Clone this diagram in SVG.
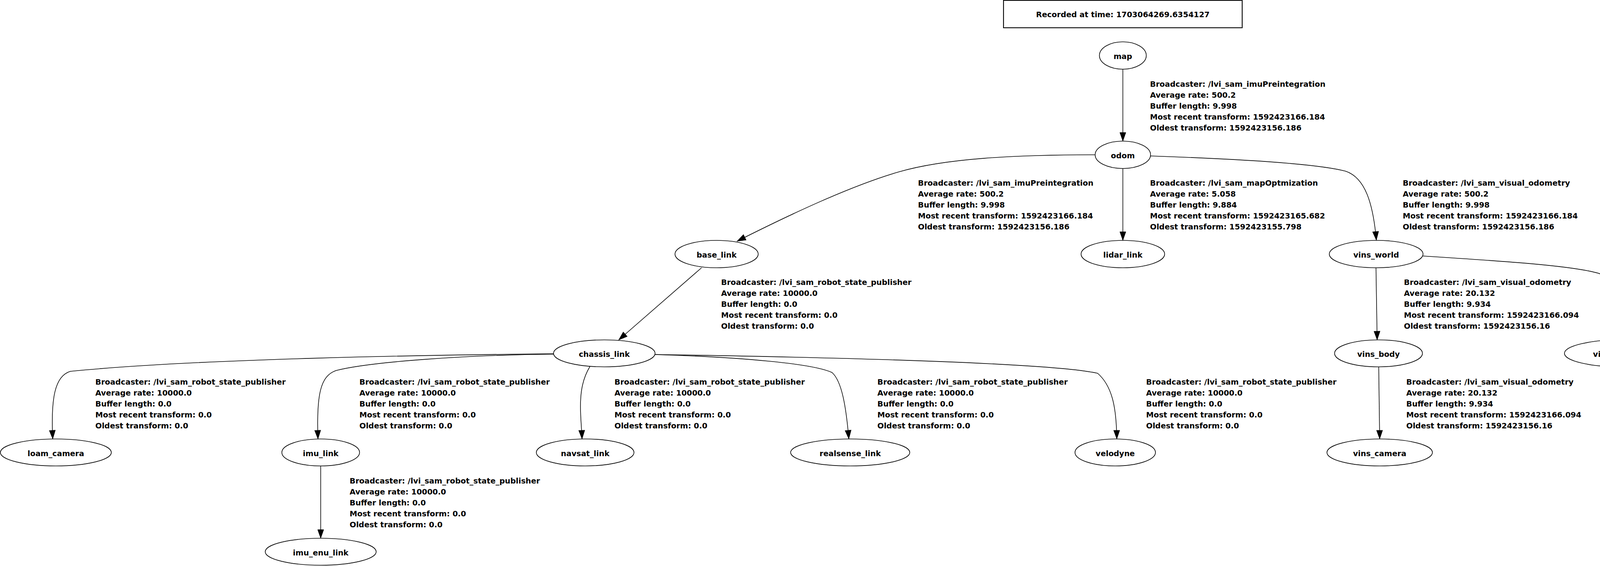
<svg xmlns="http://www.w3.org/2000/svg" width="4676" height="1448" viewBox="0 0 4676 1448">
<style>
text { font-family: "DejaVu Sans", "Liberation Sans", sans-serif; font-weight: bold; font-size: 19.6px; fill: #000; }
.node ellipse { fill: #fff; stroke: #000; stroke-width: 1.7; }
.node text { text-anchor: middle; }
.edge path { fill: none; stroke: #000; stroke-width: 1.6; marker-end: url(#arrow); }
.title rect { fill: #fff; stroke: #000; stroke-width: 2.2; }
</style>
<defs>
<marker id="arrow" markerUnits="userSpaceOnUse" markerWidth="24" markerHeight="18" refX="22" refY="8" orient="auto" overflow="visible">
<path d="M0,0.3 L22,8 L0,15.7 Z" fill="#000" stroke="#000" stroke-width="1"/>
</marker>
</defs>
<rect width="4676" height="1448" fill="#fff"/>

<g id="title" class="title">
<rect x="2569" y="1" width="611" height="70"/>
<text x="2874.5" y="44" text-anchor="middle">Recorded at time: 1703064269.6354127</text>
</g>

<g id="connectors">
<g class="edge" id="e-map-odom"><path d="M2874.5,177 L2874.5,361"/></g>
<g class="edge" id="e-odom-base_link"><path d="M2803,396 C2600,396 2420,405 2300,440 C2180,475 2030,545 1887,617"/></g>
<g class="edge" id="e-odom-lidar_link"><path d="M2874.5,431 L2874.5,615"/></g>
<g class="edge" id="e-odom-vins_world"><path d="M2946,399 C3150,406 3370,418 3445,438 C3495,455 3515,520 3523.5,614.5"/></g>
<g class="edge" id="e-base_link-chassis_link"><path d="M1796,685 L1584,869.5"/></g>
<g class="edge" id="e-vins_world-vins_body"><path d="M3522.5,685 L3525.5,869.5"/></g>
<g class="edge" id="e-vins_world-vins_body_ros"><path d="M3643,655 C3850,668 4030,680 4095,700 C4140,730 4155,800 4159.5,869"/></g>
<g class="edge" id="e-chassis_link-loam_camera"><path d="M1417,905 C1100,908 500,918 180,950 C140,962 130,1020 135,1123"/></g>
<g class="edge" id="e-chassis_link-imu_link"><path d="M1417,906 C1200,908 950,925 860,948 C820,962 810,1010 814,1123"/></g>
<g class="edge" id="e-chassis_link-navsat_link"><path d="M1510,938 C1492,968 1486,1000 1486,1040 C1486,1070 1489,1095 1490,1123"/></g>
<g class="edge" id="e-chassis_link-realsense_link"><path d="M1677,907 C1900,914 2080,930 2130,953 C2155,975 2166,1040 2173,1123"/></g>
<g class="edge" id="e-chassis_link-velodyne"><path d="M1677,907 C2200,915 2700,930 2810,955 C2850,990 2858,1050 2859,1123"/></g>
<g class="edge" id="e-vins_body-vins_camera"><path d="M3529.5,938.5 L3532,1123"/></g>
<g class="edge" id="e-imu_link-imu_enu_link"><path d="M821,1192 L821,1377"/></g>

<g id="edge-labels">
<text x="2944" y="222"><tspan x="2944">Broadcaster: /lvi_sam_imuPreintegration</tspan><tspan x="2944" dy="28">Average rate: 500.2</tspan><tspan x="2944" dy="28">Buffer length: 9.998</tspan><tspan x="2944" dy="28">Most recent transform: 1592423166.184</tspan><tspan x="2944" dy="28">Oldest transform: 1592423156.186</tspan></text>
<text x="2350" y="475"><tspan x="2350">Broadcaster: /lvi_sam_imuPreintegration</tspan><tspan x="2350" dy="28">Average rate: 500.2</tspan><tspan x="2350" dy="28">Buffer length: 9.998</tspan><tspan x="2350" dy="28">Most recent transform: 1592423166.184</tspan><tspan x="2350" dy="28">Oldest transform: 1592423156.186</tspan></text>
<text x="2944" y="475"><tspan x="2944">Broadcaster: /lvi_sam_mapOptmization</tspan><tspan x="2944" dy="28">Average rate: 5.058</tspan><tspan x="2944" dy="28">Buffer length: 9.884</tspan><tspan x="2944" dy="28">Most recent transform: 1592423165.682</tspan><tspan x="2944" dy="28">Oldest transform: 1592423155.798</tspan></text>
<text x="3591" y="475"><tspan x="3591">Broadcaster: /lvi_sam_visual_odometry</tspan><tspan x="3591" dy="28">Average rate: 500.2</tspan><tspan x="3591" dy="28">Buffer length: 9.998</tspan><tspan x="3591" dy="28">Most recent transform: 1592423166.184</tspan><tspan x="3591" dy="28">Oldest transform: 1592423156.186</tspan></text>
<text x="1846" y="729"><tspan x="1846">Broadcaster: /lvi_sam_robot_state_publisher</tspan><tspan x="1846" dy="28">Average rate: 10000.0</tspan><tspan x="1846" dy="28">Buffer length: 0.0</tspan><tspan x="1846" dy="28">Most recent transform: 0.0</tspan><tspan x="1846" dy="28">Oldest transform: 0.0</tspan></text>
<text x="3594" y="729"><tspan x="3594">Broadcaster: /lvi_sam_visual_odometry</tspan><tspan x="3594" dy="28">Average rate: 20.132</tspan><tspan x="3594" dy="28">Buffer length: 9.934</tspan><tspan x="3594" dy="28">Most recent transform: 1592423166.094</tspan><tspan x="3594" dy="28">Oldest transform: 1592423156.16</tspan></text>
<text x="4226" y="729"><tspan x="4226">Broadcaster: /lvi_sam_visual_odometry</tspan><tspan x="4226" dy="28">Average rate: 500.2</tspan><tspan x="4226" dy="28">Buffer length: 9.998</tspan><tspan x="4226" dy="28">Most recent transform: 1592423166.184</tspan><tspan x="4226" dy="28">Oldest transform: 1592423156.186</tspan></text>
<text x="244" y="984"><tspan x="244">Broadcaster: /lvi_sam_robot_state_publisher</tspan><tspan x="244" dy="28">Average rate: 10000.0</tspan><tspan x="244" dy="28">Buffer length: 0.0</tspan><tspan x="244" dy="28">Most recent transform: 0.0</tspan><tspan x="244" dy="28">Oldest transform: 0.0</tspan></text>
<text x="920" y="984"><tspan x="920">Broadcaster: /lvi_sam_robot_state_publisher</tspan><tspan x="920" dy="28">Average rate: 10000.0</tspan><tspan x="920" dy="28">Buffer length: 0.0</tspan><tspan x="920" dy="28">Most recent transform: 0.0</tspan><tspan x="920" dy="28">Oldest transform: 0.0</tspan></text>
<text x="1573" y="984"><tspan x="1573">Broadcaster: /lvi_sam_robot_state_publisher</tspan><tspan x="1573" dy="28">Average rate: 10000.0</tspan><tspan x="1573" dy="28">Buffer length: 0.0</tspan><tspan x="1573" dy="28">Most recent transform: 0.0</tspan><tspan x="1573" dy="28">Oldest transform: 0.0</tspan></text>
<text x="2246" y="984"><tspan x="2246">Broadcaster: /lvi_sam_robot_state_publisher</tspan><tspan x="2246" dy="28">Average rate: 10000.0</tspan><tspan x="2246" dy="28">Buffer length: 0.0</tspan><tspan x="2246" dy="28">Most recent transform: 0.0</tspan><tspan x="2246" dy="28">Oldest transform: 0.0</tspan></text>
<text x="2934" y="984"><tspan x="2934">Broadcaster: /lvi_sam_robot_state_publisher</tspan><tspan x="2934" dy="28">Average rate: 10000.0</tspan><tspan x="2934" dy="28">Buffer length: 0.0</tspan><tspan x="2934" dy="28">Most recent transform: 0.0</tspan><tspan x="2934" dy="28">Oldest transform: 0.0</tspan></text>
<text x="3600" y="984"><tspan x="3600">Broadcaster: /lvi_sam_visual_odometry</tspan><tspan x="3600" dy="28">Average rate: 20.132</tspan><tspan x="3600" dy="28">Buffer length: 9.934</tspan><tspan x="3600" dy="28">Most recent transform: 1592423166.094</tspan><tspan x="3600" dy="28">Oldest transform: 1592423156.16</tspan></text>
<text x="895" y="1237"><tspan x="895">Broadcaster: /lvi_sam_robot_state_publisher</tspan><tspan x="895" dy="28">Average rate: 10000.0</tspan><tspan x="895" dy="28">Buffer length: 0.0</tspan><tspan x="895" dy="28">Most recent transform: 0.0</tspan><tspan x="895" dy="28">Oldest transform: 0.0</tspan></text>
</g>
</g>

<g id="node-map" class="node"><ellipse cx="2874.5" cy="142" rx="60" ry="35"/><text x="2874.5" y="151">map</text></g>
<g id="node-odom" class="node"><ellipse cx="2874.5" cy="396" rx="71" ry="35"/><text x="2874.5" y="405">odom</text></g>
<g id="node-base_link" class="node"><ellipse cx="1834.5" cy="650" rx="106.5" ry="35"/><text x="1834.5" y="659">base_link</text></g>
<g id="node-lidar_link" class="node"><ellipse cx="2874.5" cy="650" rx="107" ry="35"/><text x="2874.5" y="659">lidar_link</text></g>
<g id="node-vins_world" class="node"><ellipse cx="3523" cy="650" rx="120" ry="35"/><text x="3523" y="659">vins_world</text></g>
<g id="node-chassis_link" class="node"><ellipse cx="1547" cy="904" rx="130" ry="34.5"/><text x="1547" y="913">chassis_link</text></g>
<g id="node-vins_body" class="node"><ellipse cx="3529" cy="904" rx="112.5" ry="34.5"/><text x="3529" y="913">vins_body</text></g>
<g id="node-vins_body_ros" class="node"><ellipse cx="4155" cy="904" rx="150" ry="35"/><text x="4155" y="913">vins_body_ros</text></g>
<g id="node-loam_camera" class="node"><ellipse cx="143" cy="1157.5" rx="142" ry="34.5"/><text x="143" y="1166.5">loam_camera</text></g>
<g id="node-imu_link" class="node"><ellipse cx="821" cy="1157.5" rx="99.5" ry="34.5"/><text x="821" y="1166.5">imu_link</text></g>
<g id="node-navsat_link" class="node"><ellipse cx="1498" cy="1157.5" rx="125" ry="34.5"/><text x="1498" y="1166.5">navsat_link</text></g>
<g id="node-realsense_link" class="node"><ellipse cx="2176.5" cy="1157.5" rx="152.5" ry="34.5"/><text x="2176.5" y="1166.5">realsense_link</text></g>
<g id="node-velodyne" class="node"><ellipse cx="2855" cy="1157.5" rx="103" ry="34.5"/><text x="2855" y="1166.5">velodyne</text></g>
<g id="node-vins_camera" class="node"><ellipse cx="3532" cy="1157.5" rx="135" ry="34.5"/><text x="3532" y="1166.5">vins_camera</text></g>
<g id="node-imu_enu_link" class="node"><ellipse cx="821" cy="1411.5" rx="142" ry="34.5"/><text x="821" y="1420.5">imu_enu_link</text></g>
</svg>
